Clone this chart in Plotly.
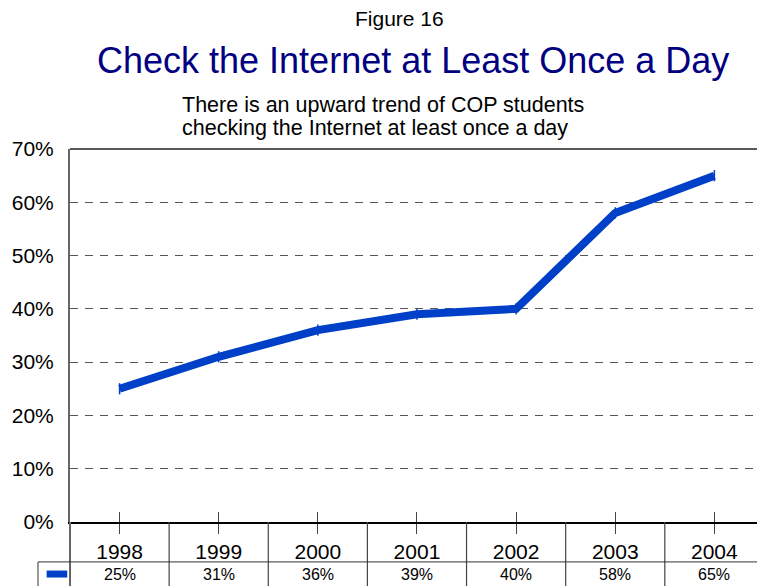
import plotly.graph_objects as go

years = ["1998", "1999", "2000", "2001", "2002", "2003", "2004"]
pct_daily = [25, 31, 36, 39, 40, 58, 65]
y_ticks = [0, 10, 20, 30, 40, 50, 60, 70]

BLUE = "#0040C8"
FONT = "Liberation Sans, Arial, sans-serif"

fig = go.Figure()

fig.add_trace(
    go.Scatter(
        x=years,
        y=pct_daily,
        mode="lines+markers",
        line={"color": BLUE, "width": 8},
        marker={"symbol": "line-ns", "size": 8, "line": {"color": BLUE, "width": 1.5}},
        showlegend=False,
        hoverinfo="x+y",
    )
)

# table lines under the x axis (category borders)
shapes = []
for i in range(len(years) - 1):
    shapes.append(
        dict(type="line", xref="x", yref="paper", x0=i + 0.5, x1=i + 0.5,
             y0=0, y1=-0.1716, line={"color": "#444", "width": 1.2})
    )
shapes += [
    dict(type="line", xref="paper", yref="paper", x0=0, x1=0, y0=0, y1=-0.1716,
         line={"color": "#666", "width": 2}),
    dict(type="line", xref="paper", yref="paper", x0=-0.0466, x1=1, y0=-0.107, y1=-0.107,
         line={"color": "#333", "width": 1}),
    dict(type="line", xref="paper", yref="paper", x0=-0.0466, x1=-0.0466, y0=-0.107, y1=-0.1716,
         line={"color": "#333", "width": 1}),
    # legend key
    dict(type="line", xref="paper", yref="paper", x0=-0.034, x1=-0.004, y0=-0.1395, y1=-0.1395,
         line={"color": BLUE, "width": 7}),
    # top border of plot
    dict(type="line", xref="paper", yref="paper", x0=0, x1=1, y0=1, y1=1,
         line={"color": "#222", "width": 1.5}),
]

# data table row: values under each year
annotations = [
    dict(x=i, y=-0.142, xref="x", yref="paper", text=f"{v}%", showarrow=False,
         xanchor="center", yanchor="middle",
         font={"size": 16, "color": "black", "family": FONT})
    for i, v in enumerate(pct_daily)
]
annotations += [
    dict(x=0.479, y=1.351, xref="paper", yref="paper", text="Figure 16", showarrow=False,
         xanchor="center", yanchor="middle",
         font={"size": 21, "color": "black", "family": FONT}),
    dict(x=0.499, y=1.2386, xref="paper", yref="paper",
         text="Check the Internet at Least Once a Day", showarrow=False,
         xanchor="center", yanchor="middle",
         font={"size": 36, "color": "#000080", "family": FONT}),
    dict(x=0.160, y=1.118, xref="paper", yref="paper", xanchor="left", yanchor="middle",
         text="There is an upward trend of COP students",
         showarrow=False, font={"size": 21.5, "color": "black", "family": FONT}),
    dict(x=0.160, y=1.056, xref="paper", yref="paper", xanchor="left", yanchor="middle",
         text="checking the Internet at least once a day",
         showarrow=False, font={"size": 21.5, "color": "black", "family": FONT}),
]

fig.update_layout(
    width=757,
    height=586,
    paper_bgcolor="white",
    plot_bgcolor="white",
    margin={"l": 70, "r": 0, "t": 149, "b": 64},
    font={"family": FONT, "color": "black"},
    shapes=shapes,
    annotations=annotations,
    xaxis={
        "type": "category",
        "range": [-0.5, 6.43],
        "showgrid": False,
        "showline": True,
        "linecolor": "black",
        "linewidth": 1.5,
        "ticks": "outside",
        "ticklen": 10,
        "tickcolor": "#444",
        "tickfont": {"size": 21, "color": "black"},
        "zeroline": False,
    },
    xaxis2={
        "type": "category",
        "overlaying": "x",
        "matches": "x",
        "showgrid": False,
        "ticks": "inside",
        "ticklen": 10,
        "tickcolor": "#444",
        "showticklabels": False,
        "side": "bottom",
    },
    yaxis={
        "range": [0, 70],
        "tickmode": "array",
        "tickvals": y_ticks,
        "ticktext": [f"{v}%" for v in y_ticks],
        "tickfont": {"size": 21, "color": "black"},
        "showgrid": True,
        "gridcolor": "#555",
        "griddash": "8px,7px",
        "gridwidth": 1.2,
        "showline": True,
        "linecolor": "#666",
        "linewidth": 2,
        "zeroline": False,
        "ticks": "",
        "ticklabelstandoff": 10,
    },
)

# invisible trace to anchor the second x axis (inside ticks)
fig.add_trace(
    go.Scatter(x=years, y=[None] * len(years), xaxis="x2", showlegend=False, hoverinfo="skip")
)

fig.write_html(
    "out.html",
    config={"displayModeBar": False},
    post_script="document.body.style.margin='0';",
)
